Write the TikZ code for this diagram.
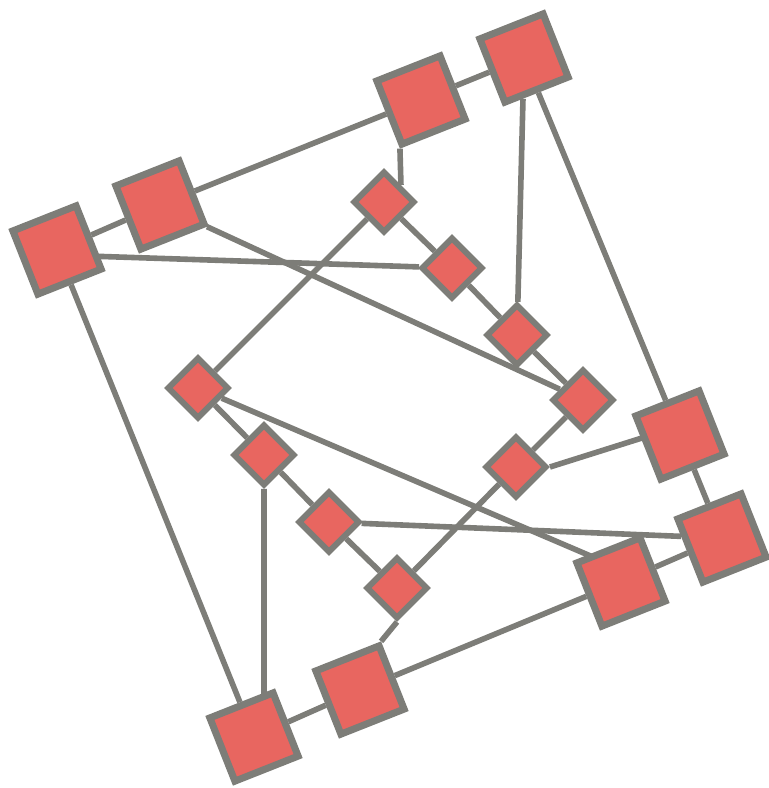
\documentclass[tikz,border=0pt]{standalone}
\usetikzlibrary{calc, backgrounds}

\definecolor{edgegray}{RGB}{125,125,120}
\definecolor{boxred}{RGB}{232,102,96}

\begin{document}
\begin{tikzpicture}[x=0.5pt, y=-0.5pt,
    bigbox/.style={draw=edgegray, fill=boxred, line width=3.5pt,
        minimum size=34pt, inner sep=0pt, rotate=21.6},
    smallbox/.style={draw=edgegray, fill=boxred, line width=3pt,
        minimum size=21pt, inner sep=0pt, rotate=45},
    link/.style={draw=edgegray, line width=2.8pt}]

    \useasboundingbox (0,0) rectangle (769,788);

    % ── Outer ring: large squares ─────────────────────────────────────────────
    \foreach \n/\x/\y in {1/57/250, 2/160/205, 3/421/100, 4/524/58,
                          5/680/435, 6/722/538, 7/621/582, 8/360/690, 9/254/737}
        \node[bigbox] (B\n) at (\x,\y) {};

    % ── Inner ring: small squares ─────────────────────────────────────────────
    \foreach \n/\x/\y in {1/384/202, 2/452/268, 3/517/335, 4/583/400,
                          5/516/467, 6/397/588, 7/329/522, 8/264/455, 9/198/388}
        \node[smallbox] (s\n) at (\x,\y) {};

    % ── Connectors (behind the squares) ───────────────────────────────────────
    \begin{pgfonlayer}{background}
        % rings
        \foreach \a/\b in {1/2, 2/3, 3/4, 4/5, 5/6, 6/7, 7/8, 8/9, 9/1}
            \draw[link] (B\a) -- (B\b);
        \foreach \a/\b in {1/2, 2/3, 3/4, 4/5, 5/6, 6/7, 7/8, 8/9, 9/1}
            \draw[link] (s\a) -- (s\b);

        % spokes between the rings
        \draw[link] (B3.south west) -- (s1.east);
        \draw[link] (B4) -- (s3);
        \draw[link] (s5.south east) -- ($(B5)+(0,-9)$);
        \draw[link] (s7) -- (B6);
        \draw[link] (s9) -- ($(B7)+(0,-13)$);
        \draw[link] (s6.south west) -- (B8.north east);
        \draw[link] (s8) -- (s8 |- B9);
        \draw[link] ($(B1)+(0,5)$) -- (s2);
        \draw[link] (B2) -- (s4);
    \end{pgfonlayer}

\end{tikzpicture}
\end{document}
